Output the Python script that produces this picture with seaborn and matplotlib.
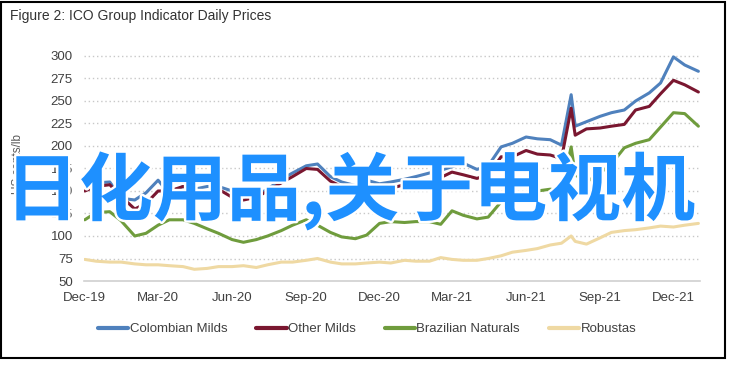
import matplotlib
matplotlib.use("Agg")
import matplotlib.pyplot as plt
import matplotlib.dates as mdates
import matplotlib.patheffects as pe
from matplotlib.lines import Line2D
from matplotlib.patches import Rectangle
import pandas as pd
import seaborn as sns

# semi-monthly readings, plus the late-July 2021 frost spike
dates = sorted(list(pd.date_range("2019-12-01", "2022-01-01", freq="SMS")) + [pd.Timestamp("2021-07-27")])

colombian_milds = [157, 159,
                   160, 142, 140, 148, 162, 147, 155, 152, 155, 155, 150, 147,
                   145, 152, 163, 170, 178, 180, 166, 160, 156, 162, 158, 160,
                   163, 166, 170, 173, 177, 181, 174, 178, 199, 203, 210, 208,
                   207, 201, 257, 222, 227, 233, 237, 240, 250, 259, 270, 299, 290,
                   283]
other_milds = [150, 155,
               157, 144, 130, 136, 150, 150, 155, 150, 148, 152, 143, 140,
               143, 150, 159, 166, 175, 174, 161, 155, 151, 158, 153, 153,
               157, 160, 162, 165, 171, 168, 164, 168, 188, 188, 195, 191,
               190, 186, 242, 212, 219, 220, 222, 224, 240, 244, 258, 273, 268,
               260]
brazilian_naturals = [118, 126,
                      127, 117, 100, 103, 112, 118, 118, 114, 108, 103, 96, 93,
                      96, 100, 106, 112, 118, 112, 104, 99, 97, 101, 114, 116,
                      115, 116, 116, 113, 128, 123, 119, 121, 138, 146, 148, 150,
                      152, 150, 199, 168, 160, 170, 180, 198, 203, 207, 221, 237, 236,
                      222]
robustas = [74, 72,
            71, 71, 69, 68, 68, 67, 66, 63, 64, 66, 66, 67,
            65, 68, 71, 71, 73, 75, 71, 69, 69, 70, 71, 70,
            73, 72, 72, 76, 74, 73, 73, 75, 78, 82, 84, 86,
            90, 92, 100, 94, 91, 98, 104, 106, 107, 109, 111, 110, 112,
            114]

series_names = ["Colombian Milds", "Other Milds", "Brazilian Naturals", "Robustas"]
series_colors = ["#4f81bd", "#7a1730", "#6f9c3d", "#efd9a3"]

df = pd.concat([
    pd.DataFrame({"date": dates, "price": vals, "group": name})
    for name, vals in zip(series_names, [colombian_milds, other_milds, brazilian_naturals, robustas])
])

sns.set_theme(style="white")
plt.rcParams["font.family"] = ["Liberation Sans", "DejaVu Sans"]

fig = plt.figure(figsize=(7.36, 3.65), dpi=100)
ax = fig.add_axes([84 / 736, 1 - 281 / 365, (700 - 84) / 736, 234 / 365])

sns.lineplot(data=df, x="date", y="price", hue="group", hue_order=series_names,
             palette=series_colors, linewidth=2.2, ax=ax, legend=False)

ax.set_xlim(pd.Timestamp("2019-11-30"), pd.Timestamp("2022-01-03"))
ax.set_ylim(50, 310)
ax.set_yticks(range(50, 301, 25))
ax.xaxis.set_major_locator(mdates.MonthLocator(bymonth=[3, 6, 9, 12]))
ax.xaxis.set_major_formatter(mdates.DateFormatter("%b-%y"))
ax.set_xlabel("")
ax.set_ylabel("US cents/lb", fontsize=8.5, color="#595959", labelpad=19)
ax.tick_params(axis="both", length=0, labelsize=9.5, colors="#404040", pad=8)

for y in range(75, 301, 25):
    ax.axhline(y, color="#c8c8c8", linestyle=(0, (1, 2)), linewidth=1, zorder=0)
for s in ["top", "right", "left"]:
    ax.spines[s].set_visible(False)
ax.spines["bottom"].set_color("#d0d0d0")
ax.spines["bottom"].set_linewidth(1.2)

handles = [Line2D([], [], color=c, linewidth=3) for c in series_colors]
fig.legend(handles, series_names, loc="center left", bbox_to_anchor=(86 / 736, 1 - 329 / 365),
           ncol=4, frameon=False, fontsize=9.5, handlelength=2.3, handletextpad=0.1,
           columnspacing=2.2, labelcolor="#404040")

fig.text(10 / 736, 1 - 16 / 365, "Figure 2: ICO Group Indicator Daily Prices",
         fontsize=10, color="#333333", va="center")

fig.text(350 / 736, 1 - 191 / 365, "日化用品,关于电视机", fontsize=53.3, fontweight="bold",
         color="#1e90ff", ha="center", va="center",
         family=["Noto Sans CJK SC", "DejaVu Sans"],
         path_effects=[pe.withStroke(linewidth=3.5, foreground="white")])

fig.patches.append(Rectangle((0.002, 0.02), 0.983, 0.975, transform=fig.transFigure,
                             fill=False, edgecolor="black", linewidth=1.5))

fig.savefig("out.png", dpi=100)
